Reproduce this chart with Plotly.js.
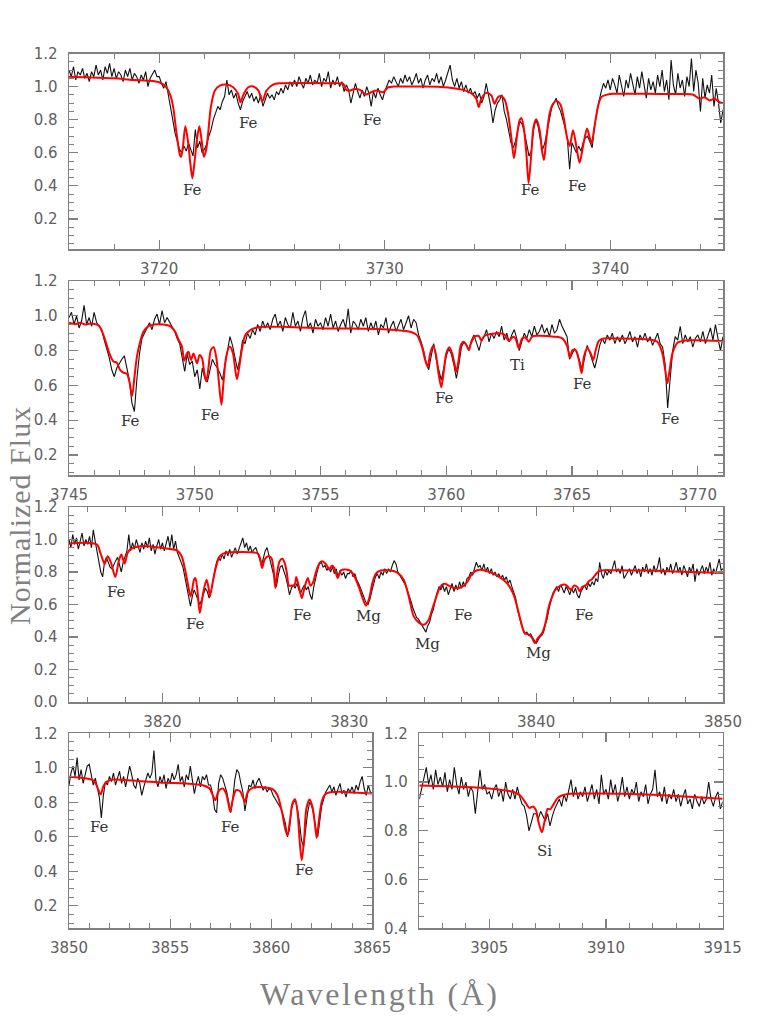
<!DOCTYPE html>
<html>
<head>
<meta charset="utf-8">
<script src="https://cdn.plot.ly/plotly-3.0.1.min.js"></script>
<style>html,body{margin:0;padding:0;background:#fff;}#chart{width:763px;height:1016px;}</style>
</head>
<body>
<div id="chart"></div>
<script>
// ---------- observed spectra: sampled every 0.1 Å from the start wavelength ----------
const sampleStep = 0.1;
const obsStart1 = 3716.0;
const obs1 = [
1.10,1.06,1.12,1.04,1.09,1.07,1.11,1.05,1.08,1.03,
1.09,1.06,1.13,1.07,1.10,1.04,1.12,1.08,1.14,1.06,
1.11,1.05,1.09,1.07,1.03,1.10,1.06,1.11,1.04,1.08,
1.06,1.02,1.07,1.04,1.09,1.00,1.05,1.08,1.10,1.06,
1.06,1.02,0.99,1.03,0.96,0.88,0.80,0.72,0.66,0.62,
0.60,0.64,0.61,0.66,0.62,0.58,0.74,0.63,0.67,0.60,
0.62,0.65,0.70,0.74,0.80,0.84,0.88,0.86,0.91,0.94,
1.04,0.95,0.98,0.93,0.96,0.90,0.86,0.91,0.94,0.97,
0.93,0.96,0.91,0.94,0.90,0.95,0.88,0.92,0.96,0.93,
0.95,0.92,0.97,0.95,0.99,0.96,1.01,0.98,1.03,1.00,
1.04,1.00,1.06,1.02,0.99,1.05,1.02,1.07,1.01,1.04,
1.02,1.08,1.00,1.05,1.03,1.09,0.99,1.04,1.01,1.06,
1.00,1.03,0.97,1.01,0.98,0.90,0.96,1.02,0.97,0.93,
0.98,0.94,1.00,0.96,0.88,0.97,0.93,0.99,0.95,0.92,
0.97,1.01,1.04,1.02,1.06,1.03,1.00,1.05,1.02,1.07,
1.03,1.06,1.01,1.04,1.08,1.02,1.05,0.99,1.04,1.07,
1.01,1.05,1.03,1.08,1.02,1.06,1.00,1.04,1.09,1.13,
1.04,1.00,1.05,0.99,1.03,0.97,1.01,0.96,0.99,0.95,
0.97,0.93,0.96,0.90,0.94,1.02,0.95,0.88,0.78,0.86,
0.90,0.92,0.95,0.85,0.80,0.72,0.66,0.63,0.67,0.74,
0.79,0.77,0.72,0.65,0.58,0.61,0.74,0.80,0.76,0.68,
0.62,0.66,0.73,0.82,0.87,0.90,0.93,0.88,0.85,0.80,
0.75,0.68,0.50,0.66,0.63,0.60,0.64,0.61,0.66,0.69,
0.70,0.67,0.63,0.76,0.84,0.91,0.97,1.02,0.99,1.04,
0.98,1.05,1.01,0.96,1.07,1.00,0.94,1.04,0.99,1.08,
1.01,0.95,1.06,0.99,1.09,1.02,0.93,1.05,0.98,1.03,
0.96,1.07,1.00,1.10,0.97,1.04,0.92,1.16,1.01,0.95,
1.08,0.99,1.04,0.94,1.06,1.00,1.17,0.97,1.10,1.02,
0.85,1.05,0.93,1.01,0.96,1.07,0.88,0.99,0.90,0.78,
0.86];

const obsStart2 = 3745.0;
const obs2 = [
0.99,1.02,0.95,1.00,0.93,0.97,1.06,0.95,0.99,0.94,
1.02,0.96,0.94,0.92,0.86,0.81,0.76,0.69,0.65,0.70,
0.73,0.75,0.77,0.70,0.63,0.50,0.45,0.64,0.78,0.87,
0.90,0.93,0.96,0.92,0.98,1.01,0.95,1.03,0.96,0.99,
0.96,0.94,0.91,0.87,0.84,0.76,0.68,0.78,0.72,0.74,
0.65,0.69,0.58,0.70,0.64,0.62,0.68,0.75,0.72,0.70,
0.67,0.63,0.72,0.80,0.88,0.83,0.75,0.69,0.76,0.86,
0.84,0.90,0.87,0.92,0.89,0.95,0.91,0.97,0.93,0.96,
0.92,0.98,1.01,0.94,0.97,0.91,0.99,0.95,0.93,1.02,
0.94,0.97,0.91,0.99,1.03,0.93,0.96,0.90,0.98,0.94,
0.96,0.92,0.99,0.94,1.01,0.93,0.97,0.91,0.95,0.98,
0.93,1.04,0.90,0.97,0.95,0.92,0.98,0.94,0.99,0.91,
0.96,0.92,0.97,0.89,0.95,0.93,0.99,0.90,0.94,0.97,
0.91,0.95,0.98,0.92,0.96,1.00,0.93,0.98,0.96,0.89,
0.85,0.80,0.73,0.69,0.77,0.84,0.75,0.69,0.63,0.70,
0.77,0.81,0.78,0.72,0.64,0.72,0.82,0.85,0.83,0.80,
0.86,0.89,0.84,0.80,0.86,0.88,0.92,0.85,0.90,0.87,
0.91,0.88,0.94,0.86,0.90,0.85,0.89,0.92,0.87,0.80,
0.85,0.90,0.87,0.92,0.88,0.94,0.89,0.91,0.95,0.90,
0.93,0.88,0.95,0.90,0.92,0.98,0.94,0.91,0.88,0.75,
0.78,0.81,0.79,0.74,0.69,0.76,0.83,0.79,0.75,0.70,
0.76,0.83,0.87,0.84,0.89,0.86,0.90,0.84,0.88,0.85,
0.89,0.84,0.87,0.91,0.85,0.88,0.82,0.89,0.86,0.90,
0.85,0.88,0.83,0.87,0.90,0.84,0.82,0.72,0.47,0.64,
0.80,0.88,0.86,0.94,0.84,0.89,0.85,0.88,0.82,0.87,
0.89,0.85,0.91,0.84,0.88,0.93,0.86,0.95,0.87,0.80,
0.88];

const obsStart3 = 3815.0;
const obs3 = [
1.00,0.95,1.03,0.97,1.01,0.94,0.99,1.04,0.96,1.00,
0.97,1.02,0.95,1.06,0.99,0.92,0.87,0.80,0.77,0.86,
0.89,0.86,0.83,0.82,0.85,0.87,0.89,0.85,0.80,0.86,
0.90,0.93,1.03,0.93,0.98,0.94,1.00,0.96,0.92,0.98,
0.94,0.99,0.95,1.01,0.93,0.97,0.91,0.96,1.00,0.94,
0.98,0.93,0.97,1.02,0.95,1.03,0.94,0.99,0.92,0.89,
0.87,0.83,0.77,0.71,0.64,0.59,0.65,0.69,0.66,0.63,
0.60,0.63,0.67,0.70,0.68,0.64,0.68,0.75,0.81,0.86,
0.89,0.87,0.91,0.88,0.93,0.90,0.94,0.89,0.92,0.95,
0.91,0.94,0.97,1.01,0.95,0.98,0.93,0.96,0.92,0.94,
0.95,0.92,0.88,0.84,0.89,0.93,0.95,0.90,0.87,0.81,
0.75,0.71,0.78,0.83,0.84,0.81,0.77,0.72,0.66,0.70,
0.72,0.70,0.73,0.69,0.67,0.70,0.72,0.69,0.71,0.66,
0.63,0.71,0.77,0.81,0.85,0.86,0.83,0.84,0.81,0.83,
0.80,0.83,0.79,0.82,0.77,0.81,0.78,0.80,0.76,0.79,
0.79,0.81,0.77,0.79,0.75,0.73,0.70,0.67,0.63,0.61,
0.60,0.63,0.68,0.73,0.77,0.79,0.76,0.80,0.78,0.82,
0.79,0.82,0.80,0.84,0.87,0.85,0.80,0.78,0.76,0.74,
0.72,0.69,0.66,0.62,0.58,0.55,0.52,0.51,0.49,0.47,
0.45,0.43,0.47,0.49,0.54,0.57,0.63,0.67,0.71,0.69,
0.72,0.68,0.71,0.66,0.70,0.73,0.68,0.72,0.69,0.74,
0.70,0.74,0.71,0.76,0.77,0.80,0.78,0.82,0.86,0.83,
0.84,0.81,0.85,0.80,0.83,0.79,0.82,0.78,0.80,0.77,
0.79,0.76,0.78,0.75,0.77,0.73,0.75,0.71,0.68,0.64,
0.57,0.52,0.48,0.45,0.42,0.43,0.41,0.42,0.40,0.38,
0.36,0.38,0.40,0.41,0.43,0.48,0.52,0.58,0.63,0.67,
0.69,0.71,0.68,0.72,0.70,0.67,0.71,0.69,0.66,0.70,
0.67,0.70,0.66,0.64,0.68,0.70,0.72,0.69,0.73,0.71,
0.74,0.72,0.76,0.74,0.86,0.79,0.76,0.81,0.78,0.81,
0.79,0.83,0.87,0.80,0.82,0.79,0.84,0.76,0.78,0.80,
0.82,0.78,0.81,0.84,0.79,0.82,0.77,0.83,0.80,0.85,
0.79,0.82,0.78,0.84,0.80,0.83,0.89,0.79,0.82,0.78,
0.83,0.80,0.85,0.79,0.82,0.86,0.80,0.83,0.78,0.84,
0.81,0.77,0.83,0.80,0.85,0.74,0.82,0.78,0.81,0.84,
0.79,0.83,0.80,0.86,0.78,0.82,0.79,0.84,0.88,0.81,
0.82];

const obsStart4 = 3850.0;
const obs4 = [
0.90,0.97,1.01,0.95,1.06,0.93,0.99,0.91,0.96,1.01,
1.02,0.95,0.90,0.94,0.89,0.83,0.71,0.84,0.92,0.90,
0.95,0.92,0.97,0.90,0.94,0.98,0.91,0.95,0.89,0.96,
1.01,0.96,0.90,0.88,0.94,0.91,0.84,0.89,0.93,0.97,
0.94,0.97,1.10,0.93,0.89,0.95,0.91,0.96,0.88,0.94,
0.91,0.97,0.93,0.96,1.02,0.92,0.95,0.89,0.96,0.93,
1.01,0.94,0.85,0.91,0.95,0.89,0.95,0.93,0.96,0.90,
0.90,0.85,0.76,0.74,0.91,0.96,0.94,0.90,0.86,0.80,
0.74,0.82,0.93,0.99,0.97,0.91,0.86,0.75,0.84,0.90,
0.89,0.93,0.88,0.92,0.94,0.90,0.87,0.89,0.86,0.88,
0.87,0.84,0.82,0.80,0.78,0.76,0.72,0.68,0.60,0.64,
0.76,0.80,0.81,0.76,0.68,0.58,0.54,0.65,0.74,0.80,
0.78,0.73,0.65,0.60,0.69,0.78,0.82,0.86,0.88,0.90,
0.86,0.89,0.84,0.88,0.91,0.85,0.87,0.83,0.88,0.86,
0.89,0.85,0.90,0.87,0.92,0.95,0.88,0.84,0.90,0.86,
0.85];

const obsStart5 = 3902.0;
const obs5 = [
0.93,0.97,1.01,1.06,0.99,1.03,0.97,1.05,0.99,1.02,
0.98,1.04,0.96,1.01,0.97,1.06,0.99,0.95,1.02,0.97,
1.00,0.94,0.98,0.96,0.87,0.95,1.05,0.97,0.99,0.95,
0.96,0.93,0.97,0.99,0.94,0.97,0.92,1.00,0.95,0.93,
0.97,0.93,0.98,0.94,0.91,0.90,0.86,0.80,0.84,0.87,
0.87,0.85,0.88,0.86,0.84,0.87,0.82,0.86,0.89,0.91,
0.93,0.90,0.95,0.92,0.97,1.01,0.94,0.98,0.93,0.96,
0.94,0.98,0.92,0.96,0.99,0.93,0.97,0.91,1.03,0.95,
0.97,0.93,1.01,0.95,0.99,0.92,0.96,1.02,0.94,0.98,
0.93,0.97,0.95,1.00,0.92,0.96,0.94,0.99,0.91,0.95,
0.97,1.05,0.94,0.96,0.92,0.98,0.91,0.95,0.93,0.97,
0.92,0.95,0.90,0.94,0.97,0.91,0.93,0.89,0.95,0.92,
0.90,0.94,0.91,0.93,1.00,0.93,0.90,0.94,0.96,0.89,
0.92];

// ---------- synthetic (model) spectra ----------
const modelWave1 = [3716.0,3717.0,3718.0,3718.85,3719.5,3720.0,3720.3,3720.5,3720.62,3720.77,3720.92,3720.97,3721.05,3721.16,3721.27,3721.38,3721.47,3721.56,3721.67,3721.78,3721.88,3721.98,3722.08,3722.17,3722.29,3722.47,3722.69,3722.99,3723.28,3723.5,3723.6,3723.75,3723.95,3724.17,3724.4,3724.57,3724.76,3725.05,3725.35,3726.5,3727.5,3728.16,3728.3,3728.45,3728.67,3728.9,3729.15,3729.4,3729.63,3729.93,3730.15,3730.4,3731.5,3732.5,3733.47,3733.84,3734.06,3734.17,3734.28,3734.5,3734.73,3734.87,3735.02,3735.17,3735.32,3735.47,3735.61,3735.73,3735.86,3735.98,3736.06,3736.16,3736.28,3736.38,3736.5,3736.6,3736.72,3736.87,3736.97,3737.06,3737.16,3737.31,3737.46,3737.64,3737.79,3737.93,3738.08,3738.2,3738.35,3738.5,3738.64,3738.79,3738.97,3739.08,3739.17,3739.3,3739.45,3739.6,3739.82,3740.12,3741.5,3743.0,3743.66,3743.96,3744.18,3744.4,3744.62,3744.85,3745.0];
const modelFlux1 = [1.06,1.055,1.05,1.04,1.036,1.026,0.998,0.946,0.876,0.716,0.586,0.576,0.636,0.76,0.676,0.536,0.446,0.536,0.676,0.76,0.676,0.576,0.616,0.716,0.876,0.976,1.006,1.012,0.996,0.956,0.906,0.956,0.996,1.0,0.976,0.91,0.976,1.012,1.02,1.022,1.02,1.016,0.98,0.976,0.986,0.98,0.952,0.966,0.976,0.966,0.996,1.0,1.0,0.998,0.98,0.96,0.926,0.876,0.926,0.962,0.946,0.896,0.936,0.942,0.92,0.836,0.696,0.566,0.696,0.796,0.81,0.756,0.596,0.416,0.596,0.756,0.802,0.736,0.616,0.556,0.676,0.836,0.896,0.912,0.892,0.816,0.696,0.64,0.736,0.636,0.54,0.636,0.746,0.696,0.656,0.756,0.876,0.936,0.95,0.956,0.956,0.955,0.952,0.926,0.936,0.916,0.926,0.906,0.90];

const modelWave2 = [3745.0,3745.24,3745.44,3745.64,3745.84,3746.04,3746.2,3746.37,3746.5,3746.63,3746.77,3746.9,3747.03,3747.16,3747.3,3747.4,3747.51,3747.59,3747.7,3747.83,3747.96,3748.16,3748.36,3748.76,3749.02,3749.22,3749.36,3749.49,3749.58,3749.69,3749.75,3749.85,3749.95,3750.09,3750.19,3750.29,3750.38,3750.46,3750.55,3750.64,3750.75,3750.86,3750.95,3751.06,3751.15,3751.25,3751.39,3751.52,3751.61,3751.68,3751.79,3751.88,3752.01,3752.21,3752.48,3752.88,3753.54,3754.2,3754.87,3755.53,3756.86,3758.03,3758.57,3758.83,3759.03,3759.16,3759.26,3759.36,3759.47,3759.58,3759.69,3759.8,3759.89,3760.0,3760.12,3760.23,3760.32,3760.4,3760.49,3760.58,3760.69,3760.8,3760.89,3760.98,3761.12,3761.29,3761.4,3761.51,3761.75,3762.28,3762.48,3762.66,3762.75,3762.88,3763.01,3763.15,3763.28,3763.41,3763.61,3764.28,3764.61,3764.81,3764.91,3765.02,3765.14,3765.27,3765.38,3765.47,3765.6,3765.74,3765.84,3765.94,3766.07,3766.27,3766.67,3768.0,3768.39,3768.59,3768.7,3768.79,3768.88,3768.99,3769.19,3769.46,3771.0];
const modelFlux2 = [0.96,0.952,0.96,0.95,0.956,0.952,0.941,0.889,0.832,0.775,0.737,0.731,0.689,0.674,0.666,0.622,0.54,0.632,0.765,0.851,0.908,0.941,0.95,0.95,0.941,0.908,0.861,0.823,0.742,0.784,0.794,0.746,0.784,0.727,0.775,0.756,0.67,0.622,0.708,0.803,0.819,0.756,0.632,0.489,0.632,0.765,0.823,0.784,0.689,0.635,0.727,0.813,0.889,0.918,0.933,0.937,0.937,0.933,0.929,0.927,0.926,0.918,0.908,0.889,0.823,0.746,0.708,0.784,0.826,0.784,0.67,0.59,0.67,0.784,0.819,0.784,0.727,0.679,0.746,0.832,0.851,0.832,0.803,0.842,0.88,0.884,0.857,0.884,0.895,0.895,0.857,0.88,0.87,0.813,0.87,0.874,0.851,0.88,0.885,0.88,0.87,0.823,0.761,0.803,0.803,0.746,0.67,0.765,0.813,0.784,0.746,0.803,0.857,0.87,0.87,0.865,0.851,0.784,0.689,0.613,0.689,0.784,0.845,0.857,0.855];

const modelWave3 = [3815.0,3815.97,3816.5,3816.68,3816.91,3817.07,3817.25,3817.48,3817.66,3817.8,3817.98,3818.14,3818.31,3818.81,3819.7,3820.41,3820.76,3821.03,3821.21,3821.35,3821.51,3821.69,3821.76,3821.86,3822.0,3822.18,3822.36,3822.47,3822.54,3822.72,3822.9,3823.07,3823.34,3823.78,3824.67,3825.11,3825.24,3825.33,3825.47,3825.65,3825.83,3825.95,3826.04,3826.14,3826.27,3826.41,3826.54,3826.66,3826.77,3826.89,3827.07,3827.16,3827.3,3827.46,3827.6,3827.78,3827.92,3828.05,3828.23,3828.41,3828.55,3828.76,3828.93,3829.08,3829.2,3829.38,3829.56,3829.82,3830.09,3830.27,3830.53,3830.71,3830.89,3831.07,3831.24,3831.42,3831.69,3832.2,3832.55,3832.91,3833.18,3833.45,3833.71,3833.98,3834.25,3834.43,3834.61,3834.79,3834.96,3835.14,3835.32,3835.59,3835.86,3836.13,3836.34,3836.57,3836.84,3837.2,3837.55,3837.91,3838.27,3838.54,3838.8,3838.98,3839.16,3839.38,3839.61,3839.79,3839.93,3840.09,3840.32,3840.5,3840.68,3840.86,3841.04,3841.3,3841.57,3841.75,3841.88,3842.02,3842.2,3842.34,3842.46,3842.64,3842.82,3843.0,3843.18,3843.36,3843.63,3844.16,3845.95,3847.73,3850.0];
const modelFlux3 = [0.975,0.979,0.969,0.918,0.85,0.897,0.856,0.77,0.866,0.907,0.852,0.918,0.942,0.959,0.953,0.942,0.934,0.897,0.815,0.733,0.65,0.753,0.763,0.702,0.547,0.671,0.753,0.702,0.65,0.753,0.846,0.897,0.918,0.922,0.922,0.914,0.877,0.825,0.877,0.897,0.887,0.815,0.702,0.794,0.866,0.881,0.856,0.794,0.716,0.716,0.72,0.77,0.712,0.64,0.702,0.763,0.716,0.733,0.805,0.856,0.866,0.846,0.815,0.84,0.825,0.763,0.811,0.815,0.805,0.774,0.702,0.64,0.593,0.64,0.733,0.79,0.809,0.809,0.798,0.753,0.65,0.527,0.49,0.475,0.506,0.568,0.63,0.691,0.722,0.728,0.716,0.702,0.702,0.716,0.743,0.79,0.811,0.811,0.798,0.778,0.749,0.716,0.66,0.588,0.506,0.424,0.414,0.393,0.362,0.393,0.424,0.486,0.588,0.65,0.691,0.716,0.722,0.702,0.691,0.716,0.708,0.681,0.708,0.716,0.743,0.757,0.784,0.805,0.811,0.811,0.809,0.802,0.794];

const modelWave4 = [3850.0,3850.87,3851.2,3851.36,3851.53,3851.58,3851.69,3851.86,3852.18,3853.17,3853.99,3854.81,3855.8,3856.62,3856.95,3857.11,3857.24,3857.39,3857.6,3857.77,3857.9,3857.98,3858.09,3858.26,3858.46,3858.59,3858.7,3858.83,3859.08,3859.74,3860.07,3860.31,3860.53,3860.69,3860.8,3860.92,3861.05,3861.18,3861.3,3861.41,3861.51,3861.63,3861.74,3861.9,3862.04,3862.17,3862.25,3862.37,3862.5,3862.66,3862.86,3863.35,3864.01,3865.0];
const modelFlux4 = [0.948,0.938,0.928,0.899,0.851,0.847,0.89,0.919,0.932,0.926,0.919,0.913,0.909,0.899,0.88,0.841,0.812,0.864,0.88,0.851,0.783,0.745,0.812,0.87,0.864,0.831,0.803,0.857,0.884,0.886,0.876,0.841,0.745,0.648,0.609,0.687,0.793,0.818,0.745,0.571,0.464,0.59,0.764,0.816,0.774,0.667,0.594,0.706,0.803,0.845,0.857,0.861,0.857,0.851];

const modelWave5 = [3902.0,3903.19,3904.62,3905.33,3906.04,3906.32,3906.54,3906.72,3906.87,3907.0,3907.11,3907.25,3907.39,3907.5,3907.6,3907.7,3907.92,3908.11,3908.46,3909.6,3911.74,3913.16,3915.0];
const modelFlux5 = [0.986,0.983,0.977,0.97,0.959,0.945,0.917,0.894,0.90,0.885,0.835,0.794,0.849,0.89,0.888,0.90,0.934,0.945,0.952,0.953,0.949,0.942,0.931];

// ---------- line identifications ----------
const labels1 = {text:['Fe','Fe','Fe','Fe','Fe'], wave:[3721.47,3723.95,3729.46,3736.47,3738.57], flux:[0.376,0.78,0.796,0.376,0.40]};
const labels2 = {text:['Fe','Fe','Fe','Ti','Fe','Fe'], wave:[3747.43,3750.64,3759.93,3762.84,3765.43,3768.92], flux:[0.393,0.427,0.53,0.718,0.607,0.408]};
const labels3 = {text:['Fe','Fe','Fe','Mg','Mg','Fe','Mg','Fe'], wave:[3817.54,3821.77,3827.52,3831.04,3834.16,3836.09,3840.14,3842.59], flux:[0.677,0.481,0.533,0.527,0.358,0.533,0.30,0.533]};
const labels4 = {text:['Fe','Fe','Fe'], wave:[3851.53,3858.01,3861.67], flux:[0.658,0.658,0.406]};
const labels5 = {text:['Si'], wave:[3907.36], flux:[0.718]};

const xTitle = 'Wavelength (Å)';
const yTitle = 'Normalized Flux';

// ---------- build ----------
function waveGrid(start, n){ const w=[]; for(let i=0;i<n;i++) w.push(Math.round((start+i*sampleStep)*100)/100); return w; }

const panels = [
  {obs:obs1, start:obsStart1, mw:modelWave1, mf:modelFlux1, lab:labels1, xa:'x', ya:'y'},
  {obs:obs2, start:obsStart2, mw:modelWave2, mf:modelFlux2, lab:labels2, xa:'x2', ya:'y2'},
  {obs:obs3, start:obsStart3, mw:modelWave3, mf:modelFlux3, lab:labels3, xa:'x3', ya:'y3'},
  {obs:obs4, start:obsStart4, mw:modelWave4, mf:modelFlux4, lab:labels4, xa:'x4', ya:'y4'},
  {obs:obs5, start:obsStart5, mw:modelWave5, mf:modelFlux5, lab:labels5, xa:'x5', ya:'y5'}
];

const traces = [];
const annotations = [];
panels.forEach(p => {
  traces.push({x: waveGrid(p.start, p.obs.length), y: p.obs, xaxis:p.xa, yaxis:p.ya, type:'scatter', mode:'lines',
    line:{color:'#111111', width:1.1}, hoverinfo:'skip'});
  traces.push({x: p.mw, y: p.mf, xaxis:p.xa, yaxis:p.ya, type:'scatter', mode:'lines',
    line:{color:'#ff0000', width:2, shape:'spline', smoothing:0.8}, hoverinfo:'skip'});
  p.lab.text.forEach((t,i) => {
    annotations.push({text:t, x:p.lab.wave[i], y:p.lab.flux[i], xref:p.xa, yref:p.ya, showarrow:false,
      xanchor:'center', yanchor:'middle', font:{family:'DejaVu Serif, Liberation Serif, serif', size:15, color:'#333333'}});
  });
});

annotations.push({text:'<span style="letter-spacing:2.5px">'+xTitle+'</span>', xref:'paper', yref:'paper', x:379/763, y:1-994/1016, showarrow:false,
  xanchor:'center', yanchor:'middle', font:{family:'Liberation Serif, DejaVu Serif, serif', size:32, color:'#808080'}});
annotations.push({text:'<span style="letter-spacing:1px">'+yTitle+'</span>', xref:'paper', yref:'paper', x:19/763, y:1-516/1016, showarrow:false, textangle:-90,
  xanchor:'center', yanchor:'middle', font:{family:'Liberation Serif, DejaVu Serif, serif', size:30, color:'#808080'}});

const AX = '#808080';
const tickFont = {family:'DejaVu Sans, Liberation Sans, sans-serif', size:15, color:'#606060'};
function xAxis(domain, range, dtick, minorDtick, anchor){
  return {domain, range, anchor, tick0:0, dtick, tickmode:'linear', showline:true, mirror:'allticks', linecolor:AX, linewidth:1.5,
    ticks:'inside', ticklen:9, tickwidth:1.2, tickcolor:AX, showgrid:false, zeroline:false, tickfont:tickFont,
    ticklabelstandoff:5,
    minor:{tick0:0, dtick:minorDtick, ticks:'inside', ticklen:5, tickwidth:1, tickcolor:AX, showgrid:false}};
}
function yAxis(domain, range, anchor){
  return {domain, range, anchor, tick0:0, dtick:0.2, tickmode:'linear', tickformat:'.1f', showline:true, mirror:'allticks',
    linecolor:AX, linewidth:1.5, ticks:'inside', ticklen:9, tickwidth:1.2, tickcolor:AX, showgrid:false, zeroline:false,
    tickfont:tickFont, ticklabelstandoff:7,
    minor:{tick0:0, dtick:0.05, ticks:'inside', ticklen:5, tickwidth:1, tickcolor:AX, showgrid:false}};
}
const xdFull = [69/763, 723/763];
const xd4 = [69/763, 372.3/763];
const xd5 = [419.3/763, 722.7/763];
const yd1 = [1-249/1016, 1-53.5/1016];
const yd2 = [1-475/1016, 1-281/1016];
const yd3 = [1-702/1016, 1-507/1016];
const yd45 = [1-928.3/1016, 1-733.3/1016];

const layout = {
  width:763, height:1016, margin:{l:0,r:0,t:0,b:0}, paper_bgcolor:'#ffffff', plot_bgcolor:'#ffffff', showlegend:false,
  xaxis: xAxis(xdFull, [3716, 3745], 10, 2, 'y'),
  yaxis: yAxis(yd1, [0.018, 1.2], 'x'),
  xaxis2: xAxis(xdFull, [3745, 3771], 5, 1, 'y2'),
  yaxis2: yAxis(yd2, [0.085, 1.2], 'x2'),
  xaxis3: xAxis(xdFull, [3815, 3850], 10, 2, 'y3'),
  yaxis3: yAxis(yd3, [0, 1.2], 'x3'),
  xaxis4: xAxis(xd4, [3850, 3865], 5, 1, 'y4'),
  yaxis4: yAxis(yd45, [0.07, 1.2], 'x4'),
  xaxis5: xAxis(xd5, [3902, 3915], 5, 1, 'y5'),
  yaxis5: yAxis(yd45, [0.4, 1.2], 'x5'),
  annotations
};
Plotly.newPlot('chart', traces, layout, {staticPlot:true, displayModeBar:false});
</script>
</body>
</html>
